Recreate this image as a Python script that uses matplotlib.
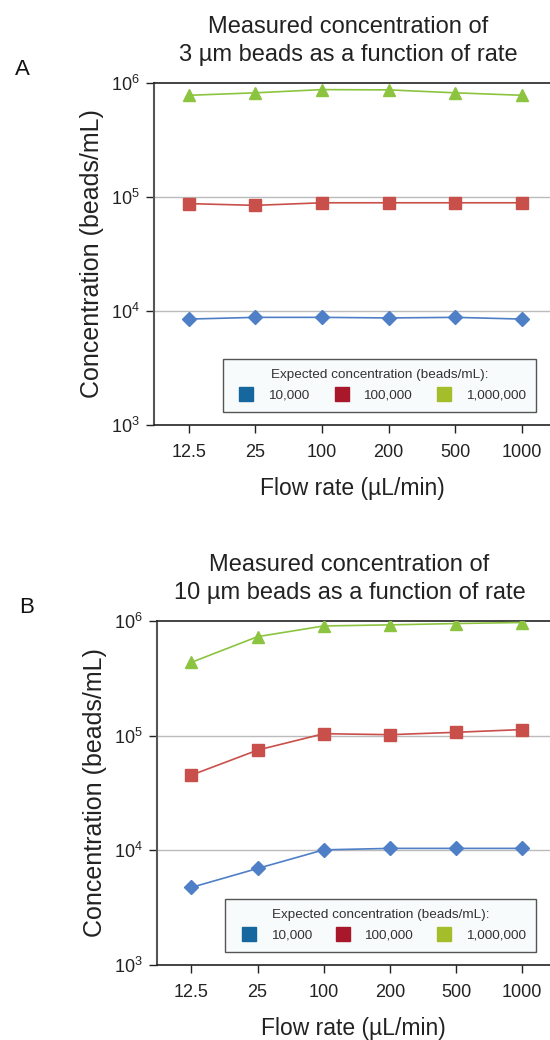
import numpy as np
import matplotlib
matplotlib.use('Agg')
import matplotlib.pyplot as plt
from matplotlib.ticker import FixedLocator, FuncFormatter, NullLocator
from matplotlib.lines import Line2D

plt.rcParams['font.family'] = ['Liberation Sans', 'DejaVu Sans']
plt.rcParams['mathtext.default'] = 'regular'

flowRates = ['12.5', '25', '100', '200', '500', '1000']
seriesNames = ['10,000', '100,000', '1,000,000']

# panel A: 3 um beads
beads3_low = [8500, 8800, 8800, 8700, 8800, 8500]
beads3_mid = [87500, 84500, 89000, 89000, 89000, 89000]
beads3_high = [780000, 820000, 875000, 870000, 820000, 780000]

# panel B: 10 um beads
beads10_low = [4750, 6950, 10100, 10400, 10400, 10400]
beads10_mid = [45300, 74800, 104000, 102000, 107000, 113000]
beads10_high = [436000, 730000, 905000, 925000, 950000, 970000]

lineColors = ['#4f7fc7', '#c94f4b', '#8cc43f']
legendColors = ['#17679f', '#a8182a', '#a3bd2b']
markers = ['D', 's', '^']
markerSizes = [7.5, 8, 8.5]


def DrawPanel(ax, seriesList, title, letter):
    x = np.arange(len(flowRates))
    for vals, col, mk, ms in zip(seriesList, lineColors, markers, markerSizes):
        ax.plot(x, vals, color=col, lw=1.2, marker=mk, ms=ms, mec=col, mfc=col, zorder=3)

    ax.set_yscale('log')
    ax.set_ylim(1e3, 1e6)
    ax.set_xlim(-0.52, 5.42)
    ax.yaxis.set_major_locator(FixedLocator([1e3, 1e4, 1e5, 1e6]))
    ax.yaxis.set_minor_locator(NullLocator())
    ax.yaxis.set_major_formatter(FuncFormatter(lambda v, p: r'$10^{%d}$' % round(np.log10(v))))
    ax.set_xticks(x)
    ax.set_xticklabels(flowRates)
    ax.tick_params(axis='both', direction='out', length=6, width=1, labelsize=13, colors='#222222')
    ax.tick_params(axis='x', pad=8)
    ax.tick_params(axis='y', pad=4)

    for yv in [1e4, 1e5]:
        ax.axhline(yv, color='#bbbbbb', lw=1, zorder=1)

    ax.spines['right'].set_visible(False)
    ax.spines['left'].set_color('#555555')
    ax.spines['left'].set_linewidth(1.5)
    ax.spines['bottom'].set_color('#222222')
    ax.spines['bottom'].set_linewidth(1.2)
    ax.spines['top'].set_color('#222222')
    ax.spines['top'].set_linewidth(1.2)

    ax.set_ylabel('Concentration (beads/mL)', fontsize=18, color='#222222', labelpad=5)
    ax.set_xlabel('Flow rate (µL/min)', fontsize=16.5, color='#222222', labelpad=11)
    ax.set_title(title, fontsize=17, color='#222222', pad=16, x=0.49, linespacing=1.35)
    ax.text(-0.351, 1.038, letter, transform=ax.transAxes, fontsize=16, color='#111111', va='center')

    handles = [Line2D([], [], ls='none', marker='s', ms=10, mfc=c, mec=c) for c in legendColors]
    leg = ax.legend(handles, seriesNames, title='Expected concentration (beads/mL):', ncol=3,
                    loc='lower left', bbox_to_anchor=(0.174, 0.038, 0.79, 0.152), mode='expand',
                    fontsize=9.7, title_fontsize=9.7, frameon=True, fancybox=False,
                    edgecolor='#555555', facecolor='#f8fbfb', framealpha=1,
                    handletextpad=0.6, borderaxespad=0, borderpad=0.75, labelspacing=0.65)
    leg.get_frame().set_linewidth(1)
    leg.get_title().set_color('#333333')
    for t in leg.get_texts():
        t.set_color('#333333')


fig = plt.figure(figsize=(5.5, 10.4), dpi=100)
axA = fig.add_axes([0.28, 0.5913, 0.72, 0.3289])
axB = fig.add_axes([0.2855, 0.0721, 0.7145, 0.3308])

DrawPanel(axA, [beads3_low, beads3_mid, beads3_high],
          'Measured concentration of\n3 µm beads as a function of rate', 'A')
DrawPanel(axB, [beads10_low, beads10_mid, beads10_high],
          'Measured concentration of\n10 µm beads as a function of rate', 'B')

fig.savefig('out.png', dpi=100)
